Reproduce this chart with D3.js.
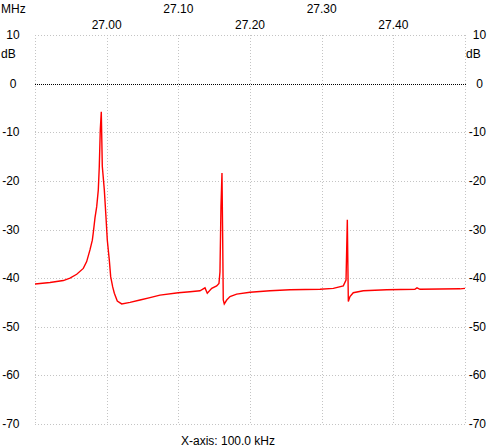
<!DOCTYPE html>
<html>
<head>
<meta charset="utf-8">
<script src="https://cdn.jsdelivr.net/npm/d3@7"></script>
<style>
  body { margin: 0; background: #fff; }
  text { font-family: "Liberation Sans", Arial, sans-serif; font-size: 12px; fill: #000; }
</style>
</head>
<body>
<svg id="chart" width="491" height="447"></svg>
<script>
var freqMHz = [26.9000, 26.9209, 26.9395, 26.9488, 26.9582, 26.9674, 26.9721, 26.9767, 26.9800,
    26.9813, 26.9837, 26.9861, 26.9883, 26.9897, 26.9911, 26.9925, 26.9939, 26.9967, 26.9991,
    27.0009, 27.0037, 27.0056, 27.0084, 27.0107, 27.0148, 27.0210, 27.0326, 27.0465, 27.0605,
    27.0744, 27.1000, 27.1163, 27.1302, 27.1372, 27.1404, 27.1466, 27.1535, 27.1567, 27.1581,
    27.1595, 27.1609, 27.1619, 27.1627, 27.1641, 27.1675, 27.1721, 27.1814, 27.2000, 27.2279,
    27.2558, 27.2977, 27.3163, 27.3302, 27.3340, 27.3358, 27.3372, 27.3395, 27.3441, 27.3581,
    27.3907, 27.4300, 27.4330, 27.4372, 27.4930, 27.5000];
var levelDb = [-41.2, -40.9, -40.5, -40.0, -39.2, -38.0, -36.6, -34.2, -32.2,
    -30.7, -27.6, -25.3, -21.9, -17.1, -9.5, -5.8, -17.0, -21.8, -27.6,
    -32.2, -36.3, -39.7, -41.8, -43.1, -44.7, -45.3, -45.0, -44.5, -44.0,
    -43.5, -43.0, -42.8, -42.6, -42.0, -43.1, -42.1, -41.6, -41.1, -38.7,
    -25.3, -18.4, -32.2, -44.5, -45.3, -44.5, -43.8, -43.3, -42.9, -42.6,
    -42.4, -42.3, -42.1, -41.6, -40.4, -28.0, -44.8, -43.8, -43.0, -42.6,
    -42.4, -42.3, -42.0, -42.3, -42.2, -42.1];

var xTicks = [27.00, 27.10, 27.20, 27.30, 27.40];
var yTicks = [10, 0, -10, -20, -30, -40, -50, -60, -70];
var xDomain = [26.90, 27.50];
var yDomain = [-70, 10];

var svg = d3.select("#chart");
var plotL = 35, plotR = 465, plotT = 35, plotB = 424;

var x = d3.scaleLinear().domain(xDomain).range([plotL, plotR]);
var y = d3.scaleLinear().domain(yDomain).range([plotB, plotT]);
var px = v => Math.round(v) + 0.5; // crisp 1px lines

svg.append("rect").attr("width", 491).attr("height", 447).attr("fill", "#fff");

// horizontal grid (0 dB drawn black, finer dots)
svg.append("g").selectAll("line")
    .data(yTicks)
    .join("line")
    .attr("x1", plotL).attr("x2", plotR + 1)
    .attr("y1", d => px(y(d))).attr("y2", d => px(y(d)))
    .attr("stroke", d => d == 0 ? "#000" : "#c4c4c4")
    .attr("stroke-dasharray", d => d == 0 ? "1,1" : "1,2");

// vertical grid, incl. plot edges
svg.append("g").selectAll("line")
    .data([xDomain[0]].concat(xTicks, [xDomain[1]]))
    .join("line")
    .attr("x1", d => px(x(d))).attr("x2", d => px(x(d)))
    .attr("y1", plotT).attr("y2", plotB + 1)
    .attr("stroke", "#c4c4c4")
    .attr("stroke-dasharray", "1,2");

// staggered MHz labels on top
svg.append("g").selectAll("text")
    .data(xTicks)
    .join("text")
    .attr("x", d => x(d))
    .attr("y", (d, i) => i % 2 ? 13 : 29)
    .attr("text-anchor", "middle")
    .text(d => d.toFixed(2));

svg.append("text").attr("x", 1).attr("y", 13).text("MHz");

// dB labels on both sides
var yl = svg.append("g");
yl.selectAll("text.l")
    .data(yTicks)
    .join("text")
    .attr("class", "l")
    .attr("x", d => d < 0 ? 19.5 : 13)
    .attr("y", d => y(d) + 4)
    .attr("text-anchor", d => d < 0 ? "end" : "middle")
    .text(d => d);
yl.selectAll("text.r")
    .data(yTicks)
    .join("text")
    .attr("class", "r")
    .attr("x", d => d < 0 ? 486 : 479.5)
    .attr("y", d => y(d) + 4)
    .attr("text-anchor", d => d < 0 ? "end" : "middle")
    .text(d => d);
svg.append("text").attr("x", 1).attr("y", 58).text("dB");
svg.append("text").attr("x", 466).attr("y", 58).text("dB");

svg.append("text")
    .attr("x", 228).attr("y", 445)
    .attr("text-anchor", "middle")
    .text("X-axis: 100.0 kHz");

// the trace
var line = d3.line()
    .x((d, i) => x(freqMHz[i]))
    .y(d => y(d));

svg.append("path")
    .datum(levelDb)
    .attr("d", line)
    .attr("fill", "none")
    .attr("stroke", "#ff0000")
    .attr("stroke-width", 1.4)
    .attr("stroke-linejoin", "miter");
</script>
</body>
</html>
